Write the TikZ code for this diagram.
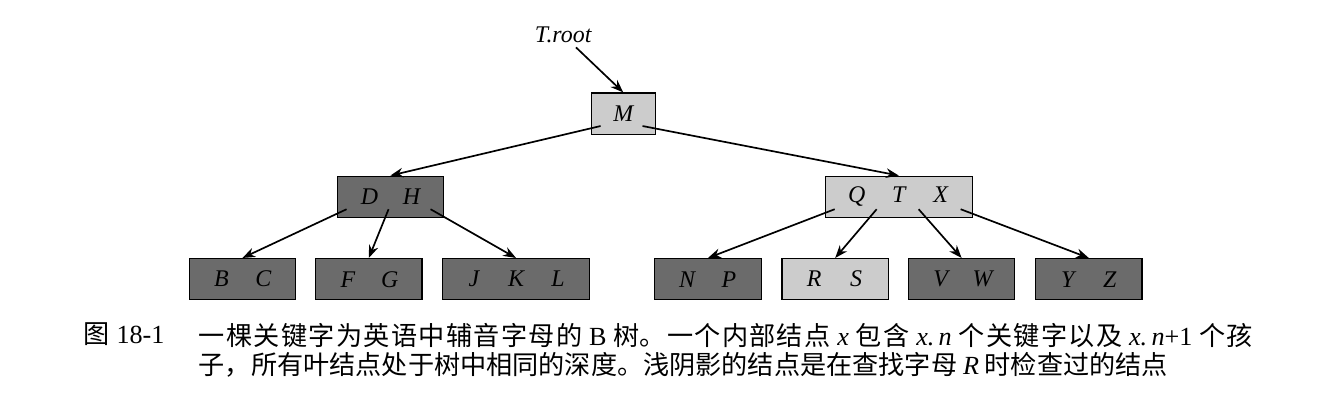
\documentclass[tikz,border=0pt]{standalone}
\usepackage{fontspec}
\setmainfont{Liberation Serif}
\newfontfamily\cjk{Noto Sans CJK SC}
\usetikzlibrary{arrows.meta,positioning}

\XeTeXlinebreaklocale "zh"
\XeTeXlinebreakskip=0pt plus 3pt

\newcommand{\cell}[1]{\makebox[1.05cm]{#1}}
\newcommand{\mi}[1]{{\rmfamily\itshape #1}}

\tikzset{
  bnode/.style={draw, rectangle, line width=0.9pt, minimum height=1.03cm, inner sep=0pt, font=\fontsize{17}{19}\selectfont\itshape},
  twokeys/.style={bnode, minimum width=2.66cm},
  threekeys/.style={bnode, minimum width=3.675cm},
  dark/.style={fill=black!58},
  light/.style={fill=black!20},
}

\begin{document}
\begin{tikzpicture}[>={Stealth[length=0.32cm,width=0.24cm]}, line width=1.2pt]
    \useasboundingbox (0,0) rectangle (33.275,-10);

    \node[font=\fontsize{17}{19}\selectfont\itshape, inner sep=1pt] (root) at (14.08,-0.88) {T.root};

    \node[bnode, light, minimum width=1.6cm] (M) at (15.58,-2.84) {\cell{M}};
    \node[twokeys, dark] (DH) at (9.76,-4.92) {\cell{D}\cell{H}};
    \node[threekeys, light] (QTX) at (22.47,-4.92) {\cell{Q}\cell{T}\cell{X}};

    \node[twokeys, dark] (BC) at (6.06,-6.98) {\cell{B}\cell{C}};
    \node[twokeys, dark] (FG) at (9.22,-6.98) {\cell{F}\cell{G}};
    \node[threekeys, dark] (JKL) at (12.9,-6.98) {\cell{J}\cell{K}\cell{L}};
    \node[twokeys, dark] (NP) at (17.7,-6.98) {\cell{N}\cell{P}};
    \node[twokeys, light] (RS) at (20.88,-6.98) {\cell{R}\cell{S}};
    \node[twokeys, dark] (VW) at (24.04,-6.98) {\cell{V}\cell{W}};
    \node[twokeys, dark] (YZ) at (27.22,-6.98) {\cell{Y}\cell{Z}};

    % child pointers inside each inner node
    \foreach \i in {0,1} \coordinate (M\i) at ([shift={(0.25+1.05*\i,0.22)}]M.south west);
    \foreach \i in {0,1,2} \coordinate (DH\i) at ([shift={(0.25+1.05*\i,0.22)}]DH.south west);
    \foreach \i in {0,1,2,3} \coordinate (QTX\i) at ([shift={(0.25+1.05*\i,0.22)}]QTX.south west);

    \draw[->, shorten <=2pt] (root) -- (M.north);
    \draw[->] (M0) -- (DH.north);
    \draw[->] (M1) -- (QTX.north);
    \draw[->] (DH0) -- (BC.north);
    \draw[->] (DH1) -- (FG.north);
    \draw[->] (DH2) -- (JKL.north);
    \draw[->] (QTX0) -- (NP.north);
    \draw[->] (QTX1) -- (RS.north);
    \draw[->] (QTX2) -- (VW.north);
    \draw[->] (QTX3) -- (YZ.north);

    \node[anchor=north west, inner sep=0pt, font=\fontsize{18.6}{21}\selectfont] (figno) at (2.075,-8.05) {{\cjk 图} 18-1};
    \node[anchor=north west, inner sep=0pt, text width=26.35cm, align=justify, font=\fontsize{18.6}{21}\selectfont] (caption) at (4.95,-8.05)
      {\cjk 一棵关键字为英语中辅音字母的 {\rmfamily B} 树。一个内部结点 \mi{x} 包含 \mi{x.\,n} 个关键字以及 \mi{x.\,n}{\rmfamily +1} 个孩\linebreak
       子，所有叶结点处于树中相同的深度。浅阴影的结点是在查找字母 \mi{R} 时检查过的结点};
\end{tikzpicture}
\end{document}
